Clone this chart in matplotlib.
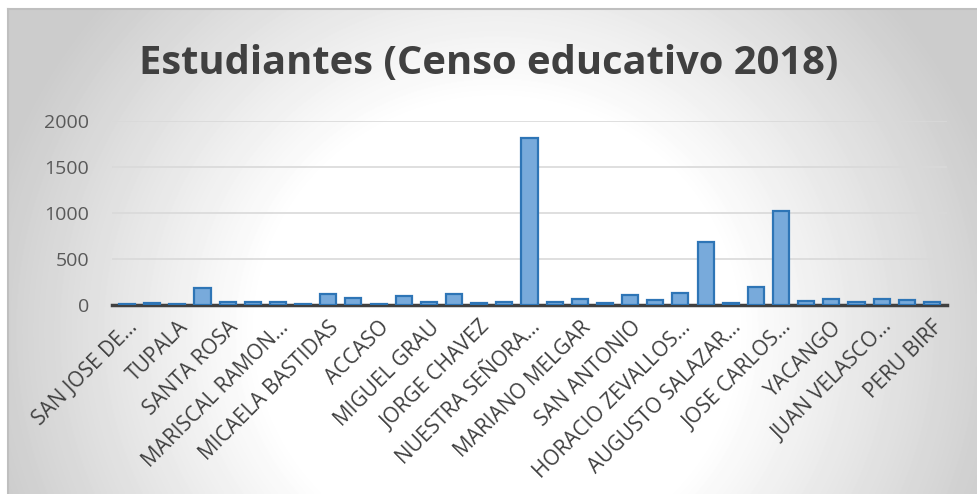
import numpy as np
import matplotlib
matplotlib.use('Agg')
import matplotlib.pyplot as plt

# Estudiantes por institucion (Censo educativo 2018), solo se rotulan las posiciones pares
labels = ['SAN JOSE DE…', 'TUPALA', 'SANTA ROSA', 'MARISCAL RAMON…',
          'MICAELA BASTIDAS', 'ACCASO', 'MIGUEL GRAU', 'JORGE CHAVEZ',
          'NUESTRA SEÑORA…', 'MARIANO MELGAR', 'SAN ANTONIO',
          'HORACIO ZEVALLOS…', 'AUGUSTO SALAZAR…', 'JOSE CARLOS…',
          'YACANGO', 'JUAN VELASCO…', 'PERU BIRF']
estudiantes = [10, 18, 10, 175, 30, 22, 22, 10, 117, 70, 10, 95, 25, 113, 18, 30,
               1825, 30, 58, 15, 106, 47, 131, 679, 18, 193, 1018, 33, 55, 26, 62, 51, 26]
title = 'Estudiantes (Censo educativo 2018)'

W, H = 977, 494
fig = plt.figure(figsize=(W / 100, H / 100), dpi=100)
fig.patch.set_facecolor('white')

# background panel: radial gradient, white middle, gray edges
x0, y0 = 8, 9
bg = fig.add_axes([x0 / W, 0, 1 - x0 / W, (H - y0) / H], zorder=0)
X, Y = np.meshgrid(np.arange(x0, W), np.arange(y0, H))
d = np.sqrt(((X - 497) / 520.0) ** 2 + ((Y - 330) / 500.0) ** 2)
ramp = np.clip((d - 0.46) / 0.54, 0, 1)
shade = 1 - 0.2 * ramp
bg.imshow(shade, cmap='gray', vmin=0, vmax=1, aspect='auto',
          extent=[x0, W, H, y0], interpolation='bilinear')
bg.set_xticks([])
bg.set_yticks([])
for side in ['right', 'bottom']:
    bg.spines[side].set_visible(False)
for side in ['top', 'left']:
    bg.spines[side].set_color('#BFBFBF')
    bg.spines[side].set_linewidth(1.5)

ax = fig.add_axes([112 / W, 1 - 304.5 / H, (947 - 112) / W, (304.5 - 121.5) / H], zorder=1)
ax.patch.set_alpha(0)
pos = np.arange(len(estudiantes))
ax.bar(pos, estudiantes, width=0.64, color='#78AADB', edgecolor='#2E75B6',
       linewidth=1.6, zorder=3)
ax.set_xlim(-0.6, len(estudiantes) - 0.4)
ax.set_ylim(0, 2000)
ax.set_yticks([0, 500, 1000, 1500, 2000])
ax.yaxis.grid(True, color='#D9D9D9', linewidth=1.2, zorder=0)
ax.set_xticks(pos[::2])
ax.set_xticklabels(labels, rotation=45, ha='right', rotation_mode='anchor',
                   fontsize=15, color='#404040', family='Open Sans')
for t in ax.get_yticklabels():
    t.set_family('Open Sans')
ax.tick_params(axis='y', length=0, labelsize=14, labelcolor='#595959', pad=16.5)
ax.tick_params(axis='x', length=0, pad=9)
for side in ['top', 'right', 'left']:
    ax.spines[side].set_visible(False)
ax.spines['bottom'].set_color('#404040')
ax.spines['bottom'].set_linewidth(2.5)
ax.spines['bottom'].set_zorder(2)

fig.text(0.5, 1 - 64 / H, title, ha='center', va='center', fontsize=28.7,
         fontweight='bold', color='#404040', family='Open Sans')

fig.savefig('out.png', dpi=100)
